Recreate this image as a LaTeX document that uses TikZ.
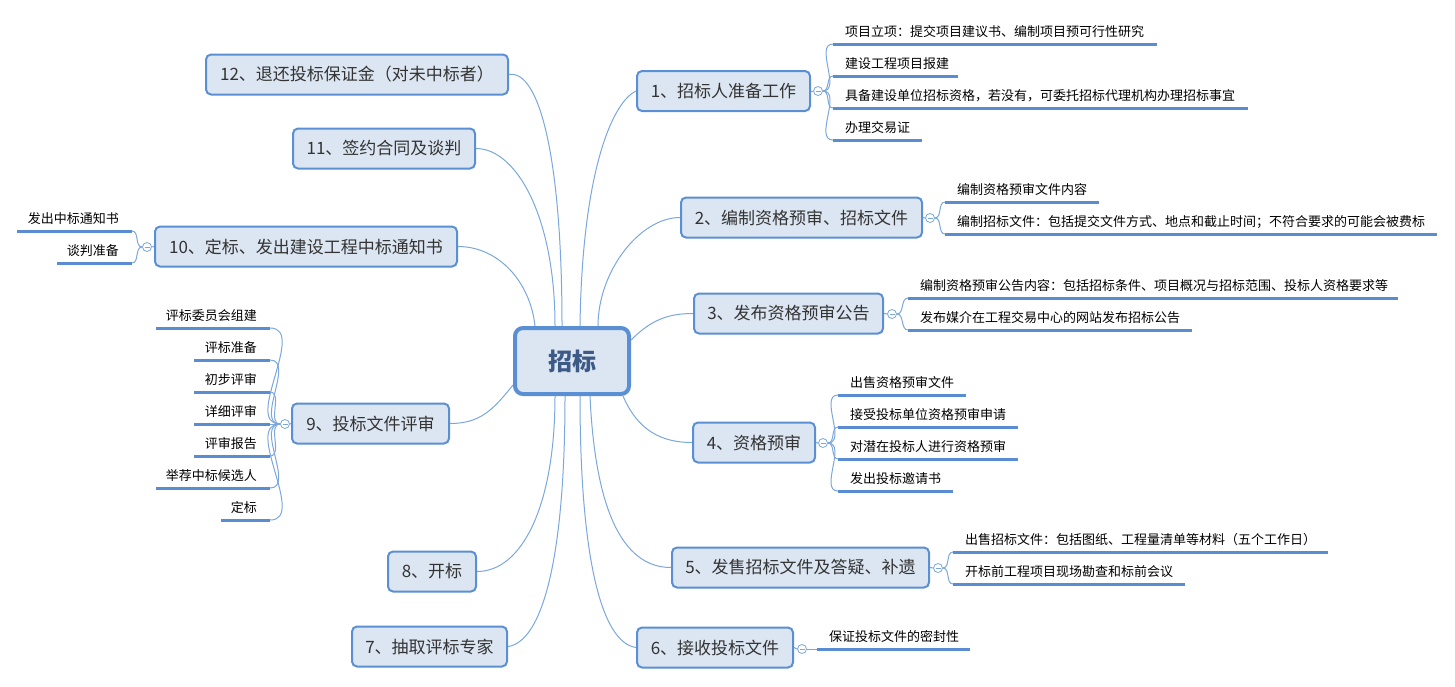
\documentclass[tikz,border=0pt]{standalone}
\usepackage{fontspec}
\setmainfont{Noto Sans CJK SC}
\usetikzlibrary{backgrounds}

\definecolor{boxfill}{HTML}{DCE6F2}
\definecolor{boxline}{HTML}{5B8FD3}
\definecolor{branch}{HTML}{7BA7DD}
\definecolor{ulcolor}{HTML}{5A8CD2}
\definecolor{topictext}{HTML}{333333}
\definecolor{hubtext}{HTML}{3C5A85}

% leaf on the right: name, underline start x, underline y, underline end x, text
\newcommand\leafR[5]{%
  \coordinate (#1) at (#2,#3);
  \draw[uline] (#1) -- (#4,#3);
  \node[leaf, anchor=base west] (#1t) at (#2+12,#3-7.5) {#5};
}
% leaf on the left: name, underline end x (right), underline y, underline start x, text
\newcommand\leafL[5]{%
  \coordinate (#1) at (#2,#3);
  \draw[uline] (#4,#3) -- (#1);
  \node[leaf, anchor=base east] (#1t) at (#2-13,#3-7.5) {#5};
}

\begin{document}
\begin{tikzpicture}[x=1pt,y=-1pt,
  hub/.style={draw=boxline, line width=4pt, fill=boxfill, rounded corners=8pt,
    minimum width=114pt, minimum height=66pt, inner sep=0pt,
    font=\fontsize{24}{28}\selectfont\bfseries, text=hubtext},
  topic/.style={draw=boxline, line width=2pt, fill=boxfill, rounded corners=5pt,
    minimum height=40pt, inner sep=0pt,
    font=\fontsize{17}{20}\selectfont, text=topictext},
  fold/.style={circle, draw=branch, line width=0.8pt, fill=white,
    minimum size=9pt, inner sep=0pt,
    path picture={\draw[branch, line width=0.8pt]
      ([xshift=-2.5pt]path picture bounding box.center) --
      ([xshift=2.5pt]path picture bounding box.center);}},
  link/.style={draw=branch, line width=1pt},
  uline/.style={draw=ulcolor, line width=3pt},
  leaf/.style={inner sep=0pt, font=\fontsize{13}{16}\selectfont, text=black},
]
\useasboundingbox (0,0) rectangle (1455,686);

% central topic
\node[hub] (c) at (572,361) {招标};

% main topics
\node[topic, minimum width=173pt] (t1) at (723.5,91) {1、招标人准备工作};
\node[topic, minimum width=241pt] (t2) at (801.5,217.5) {2、编制资格预审、招标文件};
\node[topic, minimum width=189pt] (t3) at (788.5,313.5) {3、发布资格预审公告};
\node[topic, minimum width=122pt] (t4) at (754,442.5) {4、资格预审};
\node[topic, minimum width=257pt] (t5) at (800.5,567.5) {5、发售招标文件及答疑、补遗};
\node[topic, minimum width=156pt] (t6) at (715,647.5) {6、接收投标文件};
\node[topic, minimum width=155pt] (t7) at (429.5,646.5) {7、抽取评标专家};
\node[topic, minimum width=88pt]  (t8) at (432,571.5) {8、开标};
\node[topic, minimum width=157pt] (t9) at (370.5,423.5) {9、投标文件评审};
\node[topic, minimum width=302pt] (t10) at (306,246.5) {10、定标、发出建设工程中标通知书};
\node[topic, minimum width=182pt] (t11) at (384,148.5) {11、签约合同及谈判};
\node[topic, minimum width=302pt] (t12) at (357,74.5) {12、退还投标保证金（对未中标者）};

% fold markers
\node[fold] (k1) at (818,91) {};
\node[fold] (k2) at (930,218) {};
\node[fold] (k3) at (892,314) {};
\node[fold] (k4) at (823,443) {};
\node[fold] (k5) at (938,568) {};
\node[fold] (k6) at (802,649) {};
\node[fold] (k9) at (285,424) {};
\node[fold] (k10) at (147,247) {};

% leaves
\leafR{a1}{833}{44}{1157}{项目立项：提交项目建议书、编制项目预可行性研究}
\leafR{a2}{833}{76}{958}{建设工程项目报建}
\leafR{a3}{833}{108}{1248}{具备建设单位招标资格，若没有，可委托招标代理机构办理招标事宜}
\leafR{a4}{833}{140}{922}{办理交易证}

\leafR{b1}{945}{202}{1099}{编制资格预审文件内容}
\leafR{b2}{945}{234}{1437}{编制招标文件：包括提交文件方式、地点和截止时间；不符合要求的可能会被费标}

\leafR{d1}{908}{298}{1398}{编制资格预审公告内容：包括招标条件、项目概况与招标范围、投标人资格要求等}
\leafR{d2}{908}{330}{1192}{发布媒介在工程交易中心的网站发布招标公告}

\leafR{e1}{838}{395}{966}{出售资格预审文件}
\leafR{e2}{838}{427}{1018}{接受投标单位资格预审申请}
\leafR{e3}{838}{459}{1018}{对潜在投标人进行资格预审}
\leafR{e4}{838}{491}{953}{发出投标邀请书}

\leafR{f1}{953}{552}{1328}{出售招标文件：包括图纸、工程量清单等材料（五个工作日）}
\leafR{f2}{953}{584}{1185}{开标前工程项目现场勘查和标前会议}

\leafR{g1}{817}{649}{970}{保证投标文件的密封性}

\leafL{h1}{270}{328}{156}{评标委员会组建}
\leafL{h2}{270}{360}{194}{评标准备}
\leafL{h3}{270}{392}{194}{初步评审}
\leafL{h4}{270}{424}{194}{详细评审}
\leafL{h5}{270}{456}{194}{评审报告}
\leafL{h6}{270}{488}{156}{举荐中标候选人}
\leafL{h7}{270}{520}{221}{定标}

\leafL{m1}{132}{231}{17}{发出中标通知书}
\leafL{m2}{132}{263}{57}{谈判准备}

% connectors
\begin{scope}[on background layer]
  \draw[link] ([xshift=8pt]c.north) .. controls +(2,-150) and +(-25,12) .. (t1.west);
  \draw[link] ([xshift=26pt]c.north) .. controls +(0,-55) and +(-40,0) .. (t2.west);
  \draw[link] ([yshift=21pt]c.east) .. controls +(20,-20) and +(-25,0) .. (t3.west);
  \draw[link] ([xshift=-8pt]c.south east) .. controls +(15,35) and +(-30,0) .. (t4.west);
  \draw[link] ([xshift=18pt]c.south) .. controls +(5,110) and +(-50,0) .. (t5.west);
  \draw[link] ([xshift=8pt]c.south) .. controls +(0,160) and +(-35,-5) .. (t6.west);
  \draw[link] ([xshift=-7pt]c.south) .. controls +(0,160) and +(35,-5) .. (t7.east);
  \draw[link] ([xshift=-17pt]c.south) .. controls +(0,110) and +(45,0) .. (t8.east);
  \draw[link] ([yshift=-24pt]c.west) .. controls +(-20,25) and +(30,0) .. (t9.east);
  \draw[link] ([xshift=-37pt]c.north) .. controls +(-5,-45) and +(40,0) .. (t10.east);
  \draw[link] ([xshift=-17pt]c.north) .. controls +(0,-110) and +(40,0) .. (t11.east);
  \draw[link] ([xshift=-10pt]c.north) .. controls +(0,-170) and +(30,-5) .. (t12.east);

  \foreach \t/\k in {t1/k1,t2/k2,t3/k3,t4/k4,t5/k5,t6/k6}
    \draw[link] (\t.east) -- (\k.west);
  \foreach \t/\k in {t9/k9,t10/k10}
    \draw[link] (\t.west) -- (\k.east);

  \foreach \l in {a1,a2,a3,a4} \draw[link] (k1.east) to[out=0,in=180] (\l);
  \foreach \l in {b1,b2} \draw[link] (k2.east) to[out=0,in=180] (\l);
  \foreach \l in {d1,d2} \draw[link] (k3.east) to[out=0,in=180] (\l);
  \foreach \l in {e1,e2,e3,e4} \draw[link] (k4.east) to[out=0,in=180] (\l);
  \foreach \l in {f1,f2} \draw[link] (k5.east) to[out=0,in=180] (\l);
  \draw[link] (k6.east) -- (g1);
  \foreach \l in {h1,h2,h3,h5,h6,h7} \draw[link] (k9.west) to[out=180,in=0] (\l);
  \draw[link] (k9.west) -- (h4);
  \foreach \l in {m1,m2} \draw[link] (k10.west) to[out=180,in=0] (\l);
\end{scope}
\end{tikzpicture}
\end{document}
